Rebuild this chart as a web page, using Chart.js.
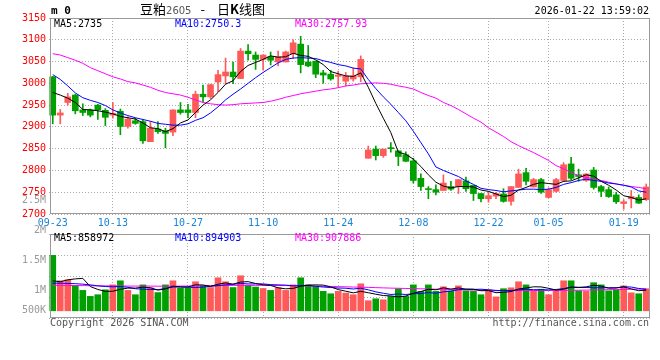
<!DOCTYPE html>
<html>
<head>
<meta charset="utf-8">
<script src="https://cdn.jsdelivr.net/npm/chart.js@4.4.1/dist/chart.umd.min.js"></script>
<style>
  html, body { margin: 0; padding: 0; background: #fff; }
  #wrap { position: relative; width: 660px; height: 360px; overflow: hidden;
          font-family: "DejaVu Sans Mono", monospace; font-size: 10px; color: #000; }
  canvas { position: absolute; left: 0; }
  #kChart { top: 0; }
  #volChart { top: 195px; }
  .t { position: absolute; white-space: nowrap; line-height: 12px; }
</style>
</head>
<body>
<div id="wrap">
  <canvas id="kChart" width="660" height="232"></canvas>
  <canvas id="volChart" width="660" height="165"></canvas>

  <div class="t" style="left:51px;top:5px;font-weight:bold;font-size:11px;">m 0</div>
  <div class="t" style="left:140px;top:1px;font-family:'Noto Sans CJK SC';font-size:13px;line-height:15px;">豆粕<span style="font-family:'DejaVu Sans';font-size:10px;color:#555;">2605</span><span style="margin-left:9px;">-</span><span style="margin-left:12px;">日<b>K</b>线图</span></div>
  <div class="t" style="right:11px;top:5px;">2026-01-22 13:59:02</div>

  <div class="t" id="k5" style="left:54px;top:18px;color:#000;"></div>
  <div class="t" id="k10" style="left:175px;top:18px;color:#0000ff;"></div>
  <div class="t" id="k30" style="left:295px;top:18px;color:#ff00ff;"></div>

  <div class="t" id="v5" style="left:54px;top:232px;color:#000;"></div>
  <div class="t" id="v10" style="left:175px;top:232px;color:#0000ff;"></div>
  <div class="t" id="v30" style="left:295px;top:232px;color:#ff00ff;"></div>

  <div class="t" style="left:50px;top:317px;color:#555;">Copyright 2026 SINA.COM</div>
  <div class="t" style="right:11px;top:317px;color:#555;">http://finance.sina.com.cn</div>
</div>

<script>
// trading days shown on the chart
const dates = [
  "09-23","09-24","09-25","09-26","09-29","09-30","10-09","10-10","10-13","10-14",
  "10-15","10-16","10-17","10-20","10-21","10-22","10-23","10-24","10-27","10-28",
  "10-29","10-30","10-31","11-03","11-04","11-05","11-06","11-07","11-10","11-11",
  "11-12","11-13","11-14","11-17","11-18","11-19","11-20","11-21","11-24","11-25",
  "11-26","11-27","11-28","12-01","12-02","12-03","12-04","12-05","12-08","12-09",
  "12-10","12-11","12-12","12-15","12-16","12-17","12-18","12-19","12-22","12-23",
  "12-24","12-25","12-26","12-29","12-30","12-31","01-05","01-06","01-07","01-08",
  "01-09","01-12","01-13","01-14","01-15","01-16","01-19","01-20","01-21","01-22"
];
const tickDates = ["09-23","10-13","10-27","11-10","11-24","12-08","12-22","01-05","01-19"];

const open = [
  3015,2927,2956,2973,2939,2939,2950,2938,2927,2936, 2901,2914,2912,2866,2895,2891,2888,2939,2939,2933,
  2975,2969,3003,3017,3026,3011,3074,3065,3055,3061, 3049,3049,3068,3090,3049,3051,3024,3021,3016,3005,
  3010,3015,2828,2849,2834,2852,2845,2836,2822,2782, 2758,2756,2754,2763,2763,2776,2766,2747,2735,2741,
  2746,2729,2761,2795,2762,2779,2738,2752,2777,2815, 2790,2777,2801,2763,2756,2744,2724,2735,2738,2733
];
const high = [
  3016,2940,2977,2975,2953,2941,2952,2942,2956,2941, 2923,2920,2916,2912,2912,2897,2939,2956,2952,2982,
  2996,2998,3030,3058,3049,3080,3089,3072,3065,3072, 3074,3074,3100,3108,3087,3051,3030,3030,3028,3025,
  3035,3063,2856,2856,2849,2864,2845,2843,2828,2792, 2763,2767,2790,2775,2779,2785,2766,2747,2752,2750,
  2758,2763,2803,2805,2782,2782,2760,2782,2818,2830, 2803,2792,2807,2766,2762,2750,2733,2754,2744,2769
];
const low = [
  2907,2907,2950,2930,2926,2923,2917,2903,2920,2882, 2897,2906,2862,2866,2885,2852,2880,2929,2921,2921,
  2958,2965,2981,2999,2999,3011,3053,3032,3030,3042, 3040,3049,3057,3024,3038,3013,3000,3007,2991,2994,
  3005,3004,2828,2824,2830,2842,2811,2820,2771,2754, 2735,2744,2754,2754,2747,2752,2731,2728,2727,2735,
  2727,2720,2761,2767,2762,2747,2737,2750,2775,2779, 2775,2775,2757,2740,2738,2724,2711,2714,2724,2731
];
const close = [
  2927,2932,2969,2937,2933,2927,2939,2922,2931,2901, 2918,2908,2868,2897,2889,2885,2939,2933,2933,2975,
  2969,2997,3020,3026,3015,3074,3068,3055,3065,3053, 3061,3072,3093,3043,3040,3021,3019,3010,3019,3017,
  3017,3055,2847,2834,2849,2850,2832,2821,2777,2763, 2756,2750,2771,2757,2779,2758,2747,2735,2742,2747,
  2729,2763,2792,2775,2779,2750,2756,2779,2813,2782, 2786,2792,2761,2752,2740,2728,2728,2740,2725,2762
];

const ma5 = [
  2979,2973,2966,2956,2940,2939,2937,2934,2930,2924, 2921,2918,2909,2898,2896,2889,2896,2909,2916,2933,
  2950,2962,2979,2998,3006,3027,3041,3048,3055,3063, 3060,3061,3069,3064,3062,3054,3043,3027,3022,3017,
  3016,3024,2991,2954,2920,2887,2842,2837,2826,2809, 2790,2773,2764,2760,2763,2763,2762,2755,2752,2746,
  2740,2743,2755,2761,2768,2772,2770,2768,2775,2776, 2783,2790,2787,2775,2766,2755,2742,2738,2732,2735
];
const ma10 = [
  3020,3009,2994,2978,2967,2961,2956,2949,2939,2932, 2926,2921,2917,2913,2908,2906,2904,2904,2907,2915,
  2921,2932,2946,2962,2975,2987,3000,3013,3025,3036, 3047,3055,3058,3059,3058,3057,3052,3048,3043,3040,
  3035,3033,3009,2988,2969,2952,2933,2914,2890,2864, 2838,2808,2800,2793,2786,2776,2768,2759,2756,2754,
  2751,2753,2755,2757,2757,2756,2757,2761,2768,2772, 2777,2780,2777,2775,2771,2769,2766,2762,2753,2750
];
const ma30 = [
  3068,3065,3059,3053,3046,3036,3029,3022,3015,3010, 3004,3001,2996,2991,2984,2979,2976,2973,2968,2962,
  2956,2953,2951,2950,2951,2953,2954,2955,2956,2959, 2963,2968,2972,2976,2979,2982,2985,2987,2990,2994,
  2996,2999,3000,3001,3000,2998,2994,2991,2987,2979, 2972,2966,2956,2949,2940,2930,2920,2911,2898,2888,
  2878,2866,2857,2849,2841,2832,2823,2811,2804,2795, 2788,2784,2780,2777,2773,2769,2766,2763,2761,2758
];

const vol = [
  2310000,1250000,1290000,1060000,850000,600000,670000,875000,1080000,1250000,
  850000,670000,1080000,960000,760000,1080000,1250000,940000,940000,1210000,
  1040000,970000,1375000,1210000,970000,1460000,1060000,990000,930000,850000,
  960000,850000,1080000,1375000,1080000,1010000,810000,710000,810000,740000,
  670000,1125000,420000,500000,460000,600000,920000,600000,1080000,810000,
  1080000,810000,1000000,830000,1040000,830000,810000,670000,875000,580000,
  920000,960000,1210000,1080000,830000,900000,670000,850000,1250000,1250000,
  830000,810000,1170000,1080000,830000,860000,1040000,750000,710000,920000
];
const volMa5 = [
  1250000,1210000,1290000,1330000,1350000,1010000,890000,810000,815000,895000,
  945000,945000,986000,962000,864000,910000,1026000,998000,994000,1084000,
  1076000,1020000,1107000,1161000,1113000,1197000,1215000,1138000,1082000,1058000,
  958000,916000,934000,1023000,1069000,1079000,1071000,997000,884000,816000,
  748000,811000,753000,691000,635000,621000,580000,616000,732000,802000,
  898000,876000,956000,906000,952000,902000,902000,836000,845000,753000,
  771000,801000,909000,950000,1000000,996000,938000,866000,900000,984000,
  970000,998000,1062000,1028000,944000,950000,996000,912000,838000,859000
];
const volMa10 = [
  1150000,1150000,1140000,1130000,1110000,1080000,1040000,1010000,1000000,1010000,
  980000,920000,900000,890000,880000,930000,990000,990000,980000,970000,
  990000,1020000,1050000,1080000,1100000,1140000,1120000,1120000,1120000,1090000,
  1080000,1070000,1040000,1050000,1060000,1020000,990000,970000,950000,940000,
  910000,940000,875000,790000,730000,680000,700000,680000,710000,720000,
  760000,730000,790000,820000,880000,900000,890000,900000,875000,850000,
  840000,850000,870000,900000,880000,880000,870000,890000,925000,990000,
  980000,970000,960000,960000,960000,960000,1000000,990000,930000,895000
];
const volMa30 = [
  1060000,1060000,1055000,1050000,1050000,1045000,1040000,1040000,1035000,1035000,
  1030000,1030000,1030000,1030000,1025000,1025000,1025000,1030000,1030000,1035000,
  1040000,1045000,1050000,1055000,1060000,1060000,1060000,1060000,1060000,1060000,
  1055000,1050000,1045000,1040000,1035000,1030000,1020000,1015000,1005000,1000000,
  990000,985000,975000,965000,955000,945000,940000,930000,925000,916000,
  910000,900000,895000,885000,880000,870000,860000,855000,845000,838000,
  838000,840000,842000,845000,846000,848000,848000,850000,852000,854000,
  858000,862000,868000,874000,880000,886000,892000,898000,903000,908000
];

const kLegend = ["MA5:2735", "MA10:2750.3", "MA30:2757.93"];
const vLegend = ["MA5:858972", "MA10:894903", "MA30:907886"];
const volLabels = ["2.5M", "2M", "1.5M", "1M", "500K"];

const priceMin = 2700, priceMax = 3150, priceStep = 50;
const volMin = -300000, volMax = 3200000;

document.getElementById("k5").textContent = kLegend[0];
document.getElementById("k10").textContent = kLegend[1];
document.getElementById("k30").textContent = kLegend[2];
document.getElementById("v5").textContent = vLegend[0];
document.getElementById("v10").textContent = vLegend[1];
document.getElementById("v30").textContent = vLegend[2];

const RED = "#ff5a5a", GREEN = "#00a000", GRID = "#aaaaaa";
const candleColor = open.map((o, i) => close[i] >= o ? RED : GREEN);
const mono = { family: "DejaVu Sans Mono", size: 10 };

// grey frame round each panel
const frame = {
  id: "frame",
  afterDatasetsDraw(chart) {
    const a = chart.chartArea, c = chart.ctx;
    c.save();
    c.strokeStyle = "#999";
    c.lineWidth = 1;
    c.strokeRect(50.5, Math.round(a.top) + 0.5, 599, Math.round(a.bottom - a.top) - 1);
    c.restore();
  }
};

// sina puts its volume labels on a fixed 30px step
const volTickText = {
  id: "volTickText",
  afterDraw(chart) {
    const a = chart.chartArea, c = chart.ctx;
    c.save();
    c.fillStyle = "#999";
    c.font = '10px "DejaVu Sans Mono"';
    c.textAlign = "right";
    c.textBaseline = "middle";
    volLabels.forEach((t, i) => c.fillText(t, 46, Math.min(a.top - 34 + i * 30, a.bottom - 8)));
    c.restore();
  }
};

function xAxis(showLabels) {
  return {
    offset: true,
    afterFit: s => { s.height = showLabels ? 18 : 0; },
    grid: {
      offset: false,
      drawTicks: false,
      color: ctx => (ctx.tick && ctx.tick.value === 0) ? "rgba(0,0,0,0)" : GRID
    },
    border: { display: false, dash: [1, 2] },
    ticks: {
      display: showLabels,
      autoSkip: false,
      maxRotation: 0,
      padding: 3,
      color: "#1a84d6",
      font: mono,
      callback: v => tickDates.includes(dates[v]) ? dates[v] : null
    }
  };
}

function maLine(data, color) {
  return { type: "line", data: data, borderColor: color, borderWidth: 1,
           pointRadius: 0, fill: false, tension: 0, order: 0 };
}

new Chart(document.getElementById("kChart"), {
  type: "bar",
  data: {
    labels: dates,
    datasets: [
      maLine(ma5, "#000000"),
      maLine(ma10, "#0000ff"),
      maLine(ma30, "#ff00ff"),
      { data: open.map((o, i) => [o, close[i]]), backgroundColor: candleColor,
        barThickness: 6, minBarLength: 1, grouped: false, order: 1 },
      { data: low.map((l, i) => [l, high[i]]), backgroundColor: candleColor,
        barThickness: 1, grouped: false, order: 2 }
    ]
  },
  options: {
    responsive: false,
    animation: false,
    devicePixelRatio: 1,
    layout: { padding: { top: 18, right: 10, left: 0, bottom: 0 } },
    plugins: { legend: { display: false }, tooltip: { enabled: false } },
    scales: {
      x: xAxis(true),
      y: {
        min: priceMin, max: priceMax,
        afterFit: s => { s.width = 49; },
        grid: { color: GRID, drawTicks: false },
        border: { display: false, dash: [1, 2] },
        ticks: { stepSize: priceStep, color: "#ff0000", padding: 3, font: mono,
                 callback: v => String(v) }
      }
    }
  },
  plugins: [frame]
});

new Chart(document.getElementById("volChart"), {
  type: "bar",
  data: {
    labels: dates,
    datasets: [
      maLine(volMa5, "#000000"),
      maLine(volMa10, "#0000ff"),
      maLine(volMa30, "#ff00ff"),
      { data: vol, backgroundColor: candleColor, barThickness: 6, order: 1 }
    ]
  },
  options: {
    responsive: false,
    animation: false,
    devicePixelRatio: 1,
    layout: { padding: { top: 39, right: 10, left: 0, bottom: 42 } },
    plugins: { legend: { display: false }, tooltip: { enabled: false } },
    scales: {
      x: xAxis(false),
      y: {
        min: volMin, max: volMax,
        afterFit: s => { s.width = 49; },
        grid: { color: GRID, drawTicks: false },
        border: { display: false, dash: [1, 2] },
        ticks: { display: false, count: 5 }
      }
    }
  },
  plugins: [frame, volTickText]
});
</script>
</body>
</html>
